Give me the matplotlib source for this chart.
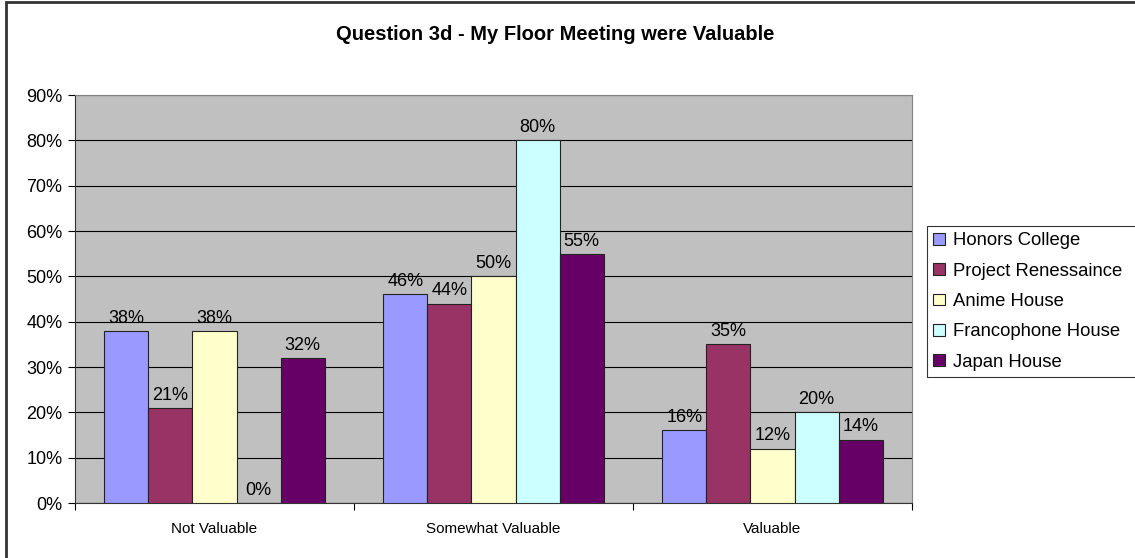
import matplotlib.pyplot as plt
import numpy as np
from matplotlib.patches import Rectangle

plt.rcParams['font.family'] = ['Liberation Sans', 'DejaVu Sans']

# Chart data
categories = ['Not Valuable', 'Somewhat Valuable', 'Valuable']
houses = ['Honors College', 'Project Renessaince', 'Anime House',
          'Francophone House', 'Japan House']
honors = [38, 46, 16]
renessaince = [21, 44, 35]
anime = [38, 50, 12]
francophone = [0, 80, 20]
japan = [32, 55, 14]
series = [honors, renessaince, anime, francophone, japan]
colors = ['#9999FF', '#993366', '#FFFFCC', '#CCFFFF', '#660066']

fig = plt.figure(figsize=(11.35, 5.58), dpi=100)
ax = fig.add_axes([75/1135, 1-503/558, (912-75)/1135, (503-95)/558])
ax.set_facecolor('#C0C0C0')

# outer chart frame (right and bottom edges fall outside the picture)
fig.patches.append(Rectangle((6/1135, -0.05), 1.1, 1.05 - 2/558,
                             transform=fig.transFigure, fill=False,
                             edgecolor='#333333', linewidth=2))

x = np.arange(len(categories))
w = 0.158
for i, (vals, col) in enumerate(zip(series, colors)):
    pos = x + (i - 2) * w
    bars = ax.bar(pos, vals, w, color=col, edgecolor='#222222',
                  linewidth=0.8, label=houses[i], zorder=3)
    for b, v in zip(bars, vals):
        ax.annotate('%d%%' % v, (b.get_x() + b.get_width()/2, v),
                    xytext=(0, 3), textcoords='offset points',
                    ha='center', va='bottom', fontsize=13, zorder=4)

ax.set_xlim(-0.5, 2.5)
ax.set_ylim(0, 90)
ax.set_yticks(np.arange(0, 91, 10))
ax.set_yticklabels(['%d%%' % t for t in range(0, 91, 10)], fontsize=13)
ax.yaxis.grid(True, color='black', linewidth=0.8, zorder=1)
ax.tick_params(axis='y', direction='out', length=5, width=0.8, pad=4)

ax.set_xticks(x)
ax.set_xticklabels(categories, fontsize=11)
ax.set_xticks([-0.5, 0.5, 1.5, 2.5], minor=True)
ax.tick_params(axis='x', which='major', length=0, pad=14)
ax.tick_params(axis='x', which='minor', direction='out', length=5, width=0.8)

for s in ['top', 'right']:
    ax.spines[s].set_color('#808080')
for s in ['left', 'bottom']:
    ax.spines[s].set_color('#333333')

fig.text(555/1135, 1-34/558, 'Question 3d - My Floor Meeting were Valuable',
         ha='center', va='center', fontsize=14.5, fontweight='bold')

# legend box runs past the right edge of the picture, as in the original
leg = fig.legend(loc='upper left',
                 bbox_to_anchor=(927/1135, 1-226/558, 225/1135, 0.0),
                 mode='expand', borderaxespad=0, fontsize=13.3, frameon=True,
                 fancybox=False, edgecolor='black', handlelength=0.6,
                 handleheight=0.6, handletextpad=0.45, labelspacing=0.72,
                 borderpad=0.35)
leg.get_frame().set_linewidth(0.8)

fig.savefig('out.png', dpi=100)
